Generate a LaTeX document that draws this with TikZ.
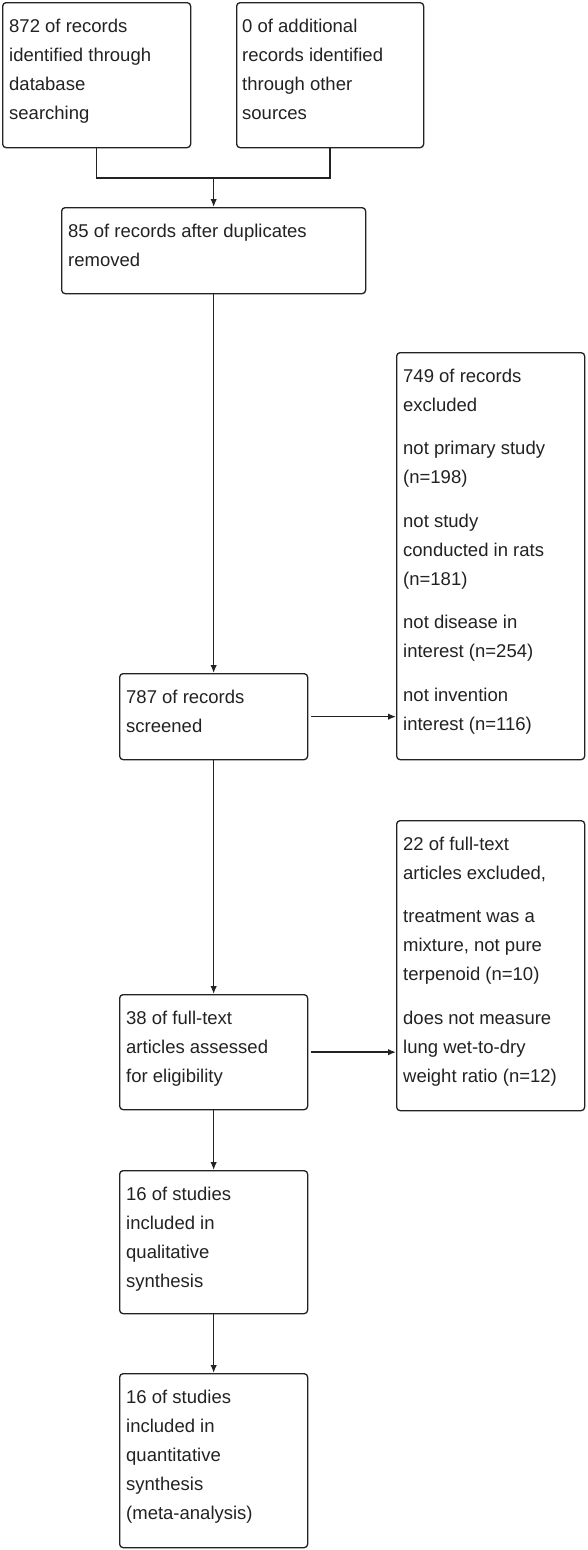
\documentclass[tikz,border=0pt]{standalone}
\usepackage{fontspec}
\setmainfont{Liberation Sans}
\usetikzlibrary{arrows.meta,calc}
\definecolor{ink}{HTML}{222222}
\tikzset{
  box/.style={draw=ink, line width=1.3pt, rounded corners=3.5pt, anchor=north west, inner sep=0pt, fill=white},
  txt/.style={anchor=north west, inner sep=0pt, align=left, text=ink, font=\fontsize{18.5}{29}\selectfont},
  conn/.style={draw=ink, line width=1.4pt},
  arr/.style={conn, -{Latex[length=8pt,width=6.5pt]}}
}
\newcommand{\gapline}{\\[14.5pt]}
\begin{document}
\begin{tikzpicture}[x=1pt,y=1pt]
\useasboundingbox (0,0) rectangle (587,-1550);
% boxes
\node[box, minimum width=188pt, minimum height=145pt] (A) at (2,-2) {};
\node[box, minimum width=187pt, minimum height=145pt] (B) at (236,-2) {};
\node[box, minimum width=304pt, minimum height=86pt] (C) at (61,-207) {};
\node[box, minimum width=188pt, minimum height=86pt] (D) at (119,-673) {};
\node[box, minimum width=188pt, minimum height=407pt] (E) at (396,-352) {};
\node[box, minimum width=188pt, minimum height=290pt] (F) at (396,-820) {};
\node[box, minimum width=188pt, minimum height=115pt] (G) at (119,-994) {};
\node[box, minimum width=188pt, minimum height=143pt] (H) at (119,-1170) {};
\node[box, minimum width=188pt, minimum height=174pt] (I) at (119,-1373) {};
% texts
\node[txt] (tA) at ($(A.north west)+(7,-16.5)$) {872 of records\\identified through\\database\\searching};
\node[txt] (tB) at ($(B.north west)+(6,-16.5)$) {0 of additional\\records identified\\through other\\sources};
\node[txt] (tC) at ($(C.north west)+(7,-16.5)$) {85 of records after duplicates\\removed};
\node[txt] (tD) at ($(D.north west)+(7,-16.5)$) {787 of records\\screened};
\node[txt] (tE) at ($(E.north west)+(7,-16.5)$) {749 of records\\excluded\gapline not primary study\\(n=198)\gapline not study\\conducted in rats\\(n=181)\gapline not disease in\\interest (n=254)\gapline not invention\\interest (n=116)};
\node[txt] (tF) at ($(F.north west)+(7,-16.5)$) {22 of full-text\\articles excluded,\gapline treatment was a\\mixture, not pure\\terpenoid (n=10)\gapline does not measure\\lung wet-to-dry\\weight ratio (n=12)};
\node[txt] (tG) at ($(G.north west)+(7,-16.5)$) {38 of full-text\\articles assessed\\for eligibility};
\node[txt] (tH) at ($(H.north west)+(7,-16.5)$) {16 of studies\\included in\\qualitative\\synthesis};
\node[txt] (tI) at ($(I.north west)+(7,-16.5)$) {16 of studies\\included in\\quantitative\\synthesis\\(meta-analysis)};
% connectors
\coordinate (j) at (C.north |- 0,-178);
\draw[conn] (A.south) -- (A.south |- j) -- (B.south |- j) -- (B.south);
\draw[arr] (j) -- (C.north);
\draw[arr] (C.south) -- (D.north);
\draw[arr] ([xshift=3pt]D.east) -- (D.east -| E.west);
\draw[arr] (D.south) -- (G.north);
\draw[arr] ([xshift=3pt]G.east) -- (G.east -| F.west);
\draw[arr] (G.south) -- (H.north);
\draw[arr] (H.south) -- (I.north);
\end{tikzpicture}
\end{document}
